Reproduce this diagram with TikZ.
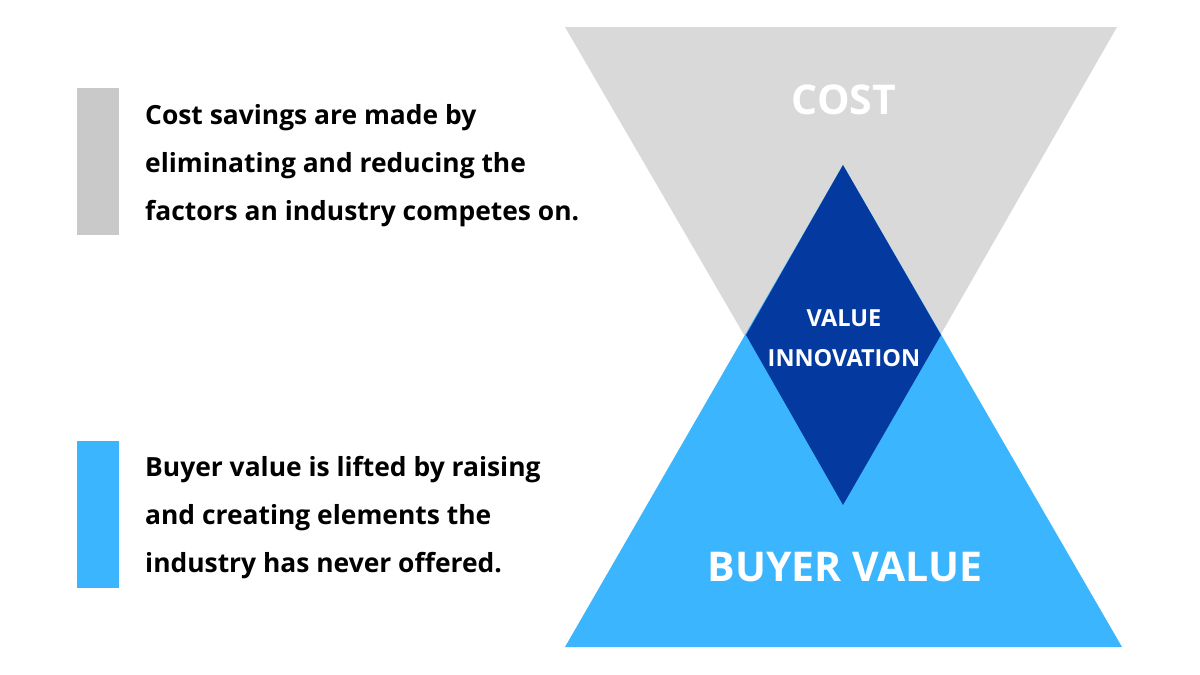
\documentclass[tikz,border=0pt]{standalone}
\usepackage{fontspec}
\setmainfont{Open Sans}
\usetikzlibrary{calc}

\definecolor{costgray}{HTML}{D9D9D9}
\definecolor{bargray}{HTML}{C9C9C9}
\definecolor{buyerblue}{HTML}{3BB6FE}
\definecolor{innoblue}{HTML}{043A9F}

\tikzset{
  bartext/.style={anchor=west, align=left, font=\fontsize{26.4}{48}\selectfont\bfseries, text=black, inner sep=0pt},
  bigword/.style={text=white, font=\fontsize{41}{50}\selectfont\bfseries, inner sep=0pt},
  smallword/.style={text=white, font=\fontsize{23.5}{26}\selectfont\bfseries, inner sep=0pt}
}

\begin{document}
\begin{tikzpicture}[x=1pt,y=-1pt]
        % page 1200 x 675, y runs downwards
        \useasboundingbox[fill=white] (0,0) rectangle (1200,675);

        % two equilateral triangles, apex of one = tip of the other
        \coordinate (CL) at (565,27);
        \coordinate (CR) at (1117,27);
        \coordinate (CA) at (843,505);
        \coordinate (BL) at (565,647);
        \coordinate (BR) at (1122,647);
        \coordinate (BA) at (843,165);

        % the diamond where they overlap
        \coordinate (VL) at (746,335);
        \coordinate (VR) at (941,335);

        % Cost triangle
        \fill[costgray] (CL) -- (CR) -- (CA) -- cycle;

        % Buyer value triangle
        \fill[buyerblue] (BL) -- (BR) -- (BA) -- cycle;

        % Value innovation
        \fill[innoblue] (BA) -- (VR) -- (CA) -- (VL) -- cycle;

        % labels in the shapes
        \node[bigword] (cost) at (844,100) {COST};
        \node[bigword] (buyer) at (845,567) {BUYER VALUE};
        \node[smallword] (value) at (844,318) {VALUE};
        \node[smallword] (innov) at (844,358) {INNOVATION};

        % side bars
        \fill[bargray] (77,88) rectangle (119,235);
        \fill[buyerblue] (77,441) rectangle (119,588);

        % side notes
        \node[bartext] (costnote) at (145,166)
          {Cost savings are made by\\eliminating and reducing the\\factors an industry competes on.};
        \node[bartext] (buyernote) at (145,518)
          {Buyer value is lifted by raising\\and creating elements the\\industry has never offered.};
    \end{tikzpicture}
\end{document}
